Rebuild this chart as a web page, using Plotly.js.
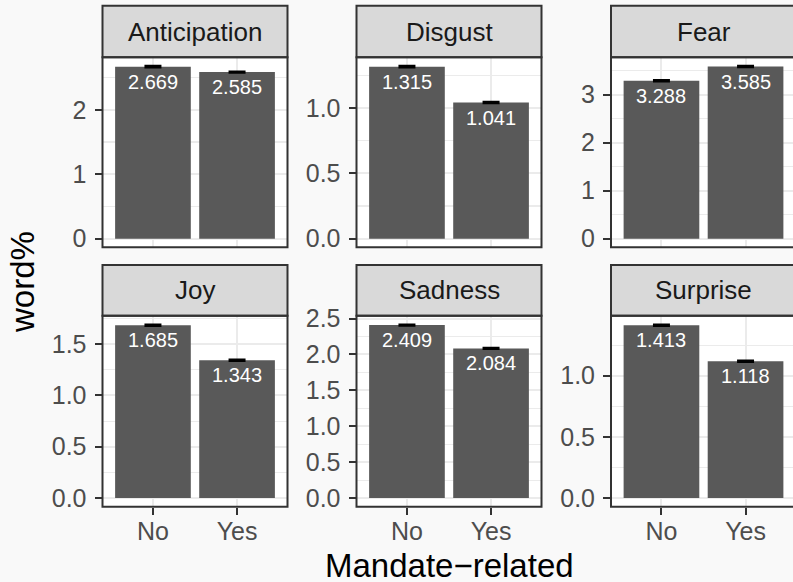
<!DOCTYPE html>
<html>
<head>
<meta charset="utf-8">
<script src="https://cdn.plot.ly/plotly-3.0.1.min.js"></script>
<style>
  html, body { margin: 0; padding: 0; background: #F9F9F9; }
  #chart { width: 793px; height: 582px; }
</style>
</head>
<body>
<div id="chart"></div>
<script>
// ---- data ----
const emotions = ['Anticipation', 'Disgust', 'Fear', 'Joy', 'Sadness', 'Surprise'];
const groups = ['No', 'Yes'];
const anticipation = [2.669, 2.585];
const disgust      = [1.315, 1.041];
const fear         = [3.288, 3.585];
const joy          = [1.685, 1.343];
const sadness      = [2.409, 2.084];
const surprise     = [1.413, 1.118];
// standard errors (estimated from the tiny error bars)
const anticipationErr = [0.012, 0.010];
const disgustErr      = [0.006, 0.005];
const fearErr         = [0.012, 0.012];
const joyErr          = [0.007, 0.006];
const sadnessErr      = [0.008, 0.007];
const surpriseErr     = [0.006, 0.006];
const yTickSteps = [1, 0.5, 1, 0.5, 0.5, 0.5];
const xTitle = 'Mandate\u2212related';
const yTitle = 'word%';

const values = [anticipation, disgust, fear, joy, sadness, surprise];
const errors = [anticipationErr, disgustErr, fearErr, joyErr, sadnessErr, surpriseErr];

// ---- layout geometry (pixels) ----
const W = 793, H = 582;
const cols = [[102.5, 287.5], [356.5, 541.5], [611, 796]];
const rows = [
  { stripTop: 5.7, panelTop: 57.3, panelBottom: 247.3 },
  { stripTop: 265, panelTop: 315.8, panelBottom: 506.7 }
];
const FONT = 'Liberation Sans, Arial, Helvetica, sans-serif';
const BORDER = '#333333';

const traces = [];
const layout = {
  width: W, height: H,
  margin: { l: 0, r: 0, t: 0, b: 0 },
  paper_bgcolor: '#F9F9F9',
  plot_bgcolor: '#FFFFFF',
  showlegend: false,
  font: { family: FONT, color: '#4D4D4D' },
  shapes: [],
  annotations: []
};

emotions.forEach((emo, i) => {
  const n = i + 1;
  const suf = n === 1 ? '' : String(n);
  const r = Math.floor(i / 3), c = i % 3;
  const [l, rt] = cols[c];
  const row = rows[r];
  const pw = rt - l;
  const upp = 2.2 / pw;
  const visR = Math.min(rt, W);
  const xr = [-0.6, -0.6 + (visR - l) * upp];
  const M = Math.max(...values[i].map((v, k) => v + errors[i][k]));
  const dt = yTickSteps[i];

  traces.push({
    type: 'bar',
    x: groups,
    y: values[i],
    width: 0.9,
    marker: { color: '#595959', line: { width: 0 } },
    error_y: { type: 'data', array: errors[i], visible: true, color: '#000000', thickness: 2.2, width: 8.5 },
    xaxis: 'x' + suf, yaxis: 'y' + suf,
    hoverinfo: 'skip'
  });

  layout['xaxis' + suf] = {
    domain: [l / W, visR / W],
    anchor: 'y' + suf,
    type: 'category',
    categoryorder: 'array', categoryarray: groups,
    range: xr,
    showgrid: true, gridcolor: '#EBEBEB', gridwidth: 2,
    zeroline: false, showline: false,
    showticklabels: r === 1,
    ticks: r === 1 ? 'outside' : '',
    ticklen: 7, tickwidth: 2, tickcolor: BORDER,
    ticklabelstandoff: -5,
    tickfont: { family: FONT, size: 25, color: '#4D4D4D' },
    fixedrange: true
  };
  layout['yaxis' + suf] = {
    domain: [(H - row.panelBottom) / H, (H - row.panelTop) / H],
    anchor: 'x' + suf,
    range: [-0.05 * M, 1.05 * M],
    tick0: 0, dtick: dt,
    tickformat: dt < 1 ? '.1f' : 'd',
    ticks: 'outside', ticklen: 7, tickwidth: 2, tickcolor: BORDER,
    ticklabelstandoff: 3,
    tickfont: { family: FONT, size: 25, color: '#4D4D4D' },
    showgrid: true, gridcolor: '#EBEBEB', gridwidth: 2,
    minor: { dtick: dt / 2, showgrid: true, gridcolor: '#EBEBEB', gridwidth: 1.1 },
    zeroline: false, showline: false,
    fixedrange: true
  };

  // strip
  layout.shapes.push({
    type: 'rect', xref: 'paper', yref: 'paper', layer: 'above',
    x0: l / W, x1: rt / W, y0: (H - row.panelTop) / H, y1: (H - row.stripTop) / H,
    fillcolor: '#D9D9D9', line: { color: BORDER, width: 2 }
  });
  // panel border
  layout.shapes.push({
    type: 'rect', xref: 'paper', yref: 'paper', layer: 'above',
    x0: l / W, x1: rt / W, y0: (H - row.panelBottom) / H, y1: (H - row.panelTop) / H,
    fillcolor: 'rgba(0,0,0,0)', line: { color: BORDER, width: 2 }
  });
  // strip label
  layout.annotations.push({
    xref: 'paper', yref: 'paper',
    x: (l + rt) / 2 / W, y: (H - (row.stripTop + row.panelTop) / 2) / H,
    xanchor: 'center', yanchor: 'middle',
    text: emo, showarrow: false,
    font: { family: FONT, size: 26, color: '#1A1A1A' }
  });
  // value labels
  values[i].forEach((v, k) => {
    layout.annotations.push({
      xref: 'x' + suf, yref: 'y' + suf,
      x: groups[k], y: v,
      xanchor: 'center', yanchor: 'middle', yshift: -15,
      text: v.toFixed(3), showarrow: false,
      font: { family: FONT, size: 20, color: '#FFFFFF' }
    });
  });
});

// axis titles
layout.annotations.push({
  xref: 'paper', yref: 'paper',
  x: ((cols[0][0] + cols[2][1]) / 2) / W, y: (H - 565) / H,
  xanchor: 'center', yanchor: 'middle',
  height: 30, valign: 'middle',
  text: xTitle, showarrow: false,
  font: { family: FONT, size: 33, color: '#000000' }
});
layout.annotations.push({
  xref: 'paper', yref: 'paper',
  x: 22 / W, y: (H - (rows[0].panelTop + rows[1].panelBottom) / 2) / H,
  xanchor: 'center', yanchor: 'middle', textangle: -90,
  text: yTitle, showarrow: false,
  font: { family: FONT, size: 33, color: '#000000' }
});

Plotly.newPlot('chart', traces, layout, { displayModeBar: false, staticPlot: true });
</script>
</body>
</html>
